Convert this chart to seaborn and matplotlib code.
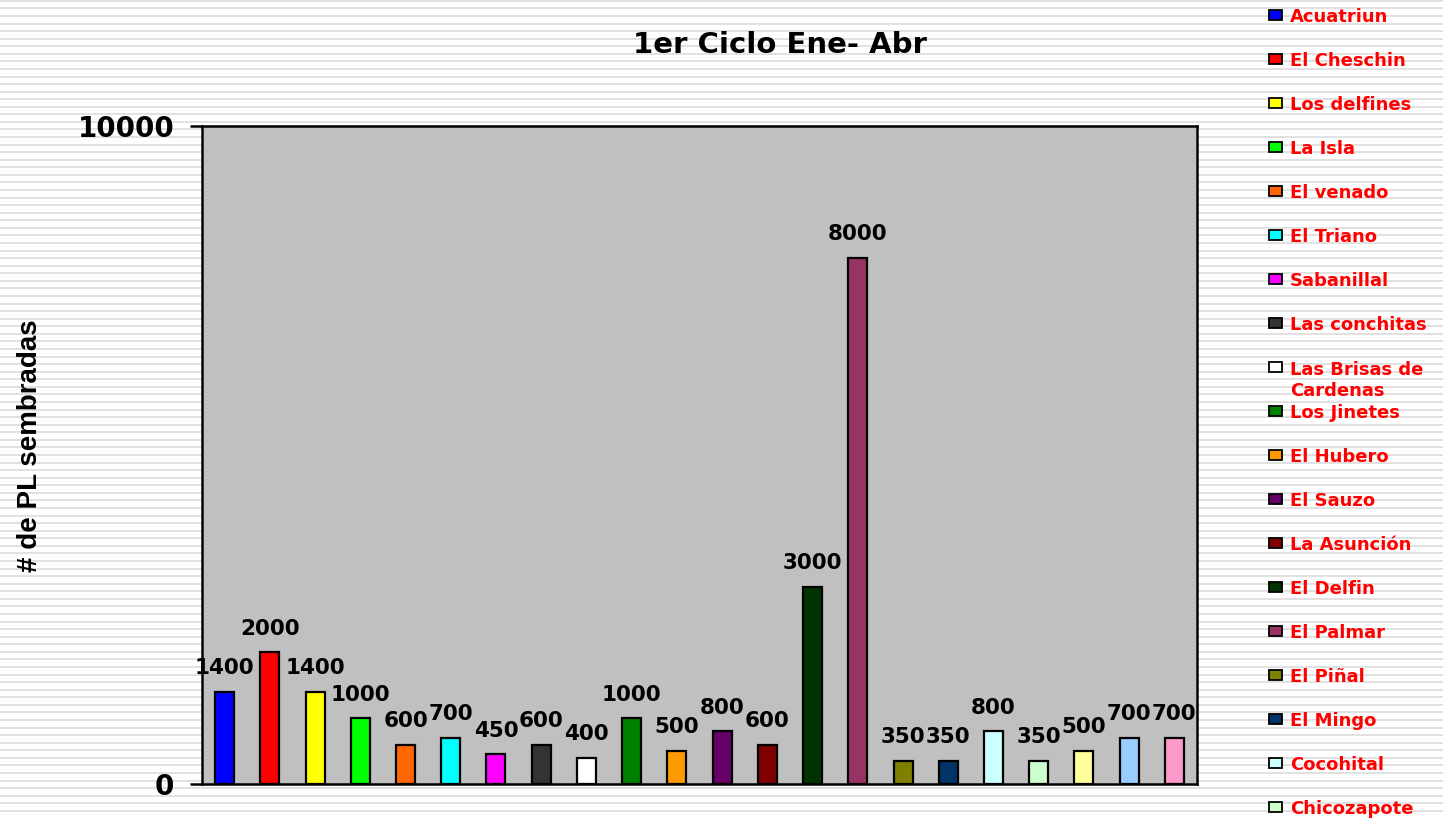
import numpy as np
import matplotlib
matplotlib.use("Agg")
import matplotlib.pyplot as plt
from matplotlib.patches import Rectangle
import seaborn as sns

# data
sitios = ["Acuatriun", "El Cheschin", "Los delfines", "La Isla", "El venado",
          "El Triano", "Sabanillal", "Las conchitas", "Las Brisas de\nCardenas",
          "Los Jinetes", "El Hubero", "El Sauzo", "La Asunción", "El Delfin",
          "El Palmar", "El Piñal", "El Mingo", "Cocohital", "Chicozapote",
          "Sitio 20", "Sitio 21", "Sitio 22"]
sembradas = [1400, 2000, 1400, 1000, 600, 700, 450, 600, 400, 1000, 500, 800,
             600, 3000, 8000, 350, 350, 800, 350, 500, 700, 700]
colores = ["#0000FF", "#FF0000", "#FFFF00", "#00FF00", "#FF6600", "#00FFFF",
           "#FF00FF", "#333333", "#FFFFFF", "#008000", "#FF9900", "#660066",
           "#800000", "#003300", "#993366", "#808000", "#003366", "#CCFFFF",
           "#CCFFCC", "#FFFF99", "#99CCFF", "#FF99CC"]
n_leyenda = 19  # the legend is cut off at the bottom of the picture

sns.set_style("white")
plt.rcParams["font.family"] = ["DejaVu Sans"]
plt.rcParams["text.color"] = "black"
plt.rcParams["axes.labelcolor"] = "black"
plt.rcParams["ytick.color"] = "black"

W, H = 1443, 818
fig = plt.figure(figsize=(W / 100, H / 100), dpi=100)
fig.patch.set_facecolor("white")

# striped page background, in pixel coords
bg = fig.add_axes([0, 0, 1, 1], zorder=-10)
bg.set_xlim(0, W)
bg.set_ylim(H, 0)
bg.axis("off")
bg.hlines(np.arange(0.8, H, 7.57), 0, W, color="#DDDDDD", lw=1.25)

ax = fig.add_axes([202 / W, 1 - 784 / H, 995 / W, 658 / H])
sns.barplot(x=sitios, y=sembradas, hue=sitios, palette=colores, legend=False,
            width=0.42, edgecolor="black", linewidth=1.6, saturation=1, ax=ax)
ax.set_facecolor("#C0C0C0")
ax.set_ylim(0, 10000)
ax.set_yticks([0, 10000])
ax.set_yticklabels(["0", "10000"], fontsize=20, fontweight="bold")
ax.tick_params(axis="y", direction="out", length=9, width=1.8, pad=11,
               left=True, color="black", labelcolor="black")
ax.set_xticks([])
ax.set_xlabel("")
for s in ax.spines.values():
    s.set_color("black")
    s.set_linewidth(1.8)

for i, v in enumerate(sembradas):
    ax.annotate(str(v), (i, v), xytext=(0, 17), textcoords="offset points",
                ha="center", va="center", fontsize=15.5, fontweight="bold",
                color="black", annotation_clip=False)

ax.set_ylabel("# de PL sembradas", fontsize=20, fontweight="bold",
              family=["Liberation Sans", "DejaVu Sans"], color="black")
ax.yaxis.set_label_coords((43 - 202) / 995, (784 - 446) / 658)

fig.text(780 / W, 1 - 45 / H, "1er Ciclo Ene- Abr", ha="center", va="center",
         fontsize=21, fontweight="bold", color="black")

# legend, drawn by hand on the background axes
y0, paso, alto_linea = 15, 44, 22
for i in range(n_leyenda):
    y = y0 + i * paso
    extra = sitios[i].count("\n") * alto_linea
    bg.add_patch(Rectangle((1269, y - 5), 13, 10, facecolor=colores[i],
                           edgecolor="black", lw=1.3, zorder=5))
    bg.text(1290, y + 6.5 + extra, sitios[i], color="#FF0000", fontsize=13,
            fontweight="bold", va="baseline", ha="left", linespacing=1.2)

fig.savefig("out.png", dpi=100)
